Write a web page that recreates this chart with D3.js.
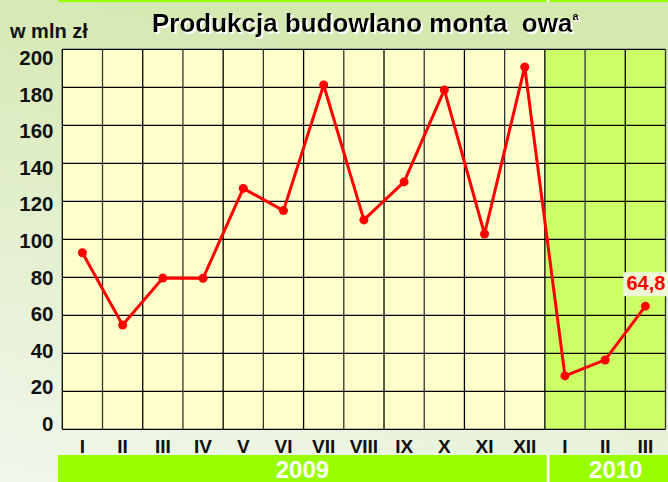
<!DOCTYPE html>
<html>
<head>
<meta charset="utf-8">
<script src="https://cdn.jsdelivr.net/npm/d3@7"></script>
<style>
  body{margin:0;padding:0;overflow:hidden;}
  .canvas{width:668px;height:482px;}
  text{font-family:"Liberation Sans",Arial,sans-serif;font-weight:bold;}
</style>
</head>
<body>
<div class="canvas"></div>
<script>
var months = ['I','II','III','IV','V','VI','VII','VIII','IX','X','XI','XII','I','II','III'];
var values = [92.9,54.9,79.6,79.5,126.8,115.1,181.2,110.2,130.2,178.6,102.8,190.7,28.1,36.5,64.8];
var years = ['2009','2010'];
var yearMonths = [12,3];
var yTicks = [0,20,40,60,80,100,120,140,160,180,200];
var lastLabel = '64,8';

var pageWidth = 668,
    pageHeight = 482;
var plot = {l:62.3,r:665.5,t:49.3,b:429.3};

var svg = d3.select('.canvas')
    .append('svg')
    .attr('width',pageWidth)
    .attr('height',pageHeight);

var defs = svg.append('defs');
var grad = defs.append('linearGradient')
    .attr('id','bg')
    .attr('x1',0.3).attr('y1',0).attr('x2',0).attr('y2',1);
grad.append('stop').attr('offset','0%').attr('stop-color','#d5e8b0');
grad.append('stop').attr('offset','100%').attr('stop-color','#f1f7ec');

// white drop shadow for the title
defs.append('filter')
    .attr('id','shadow')
    .attr('x','-5%').attr('y','-20%').attr('width','110%').attr('height','150%')
    .append('feDropShadow')
    .attr('dx',2).attr('dy',2).attr('stdDeviation',0.3)
    .attr('flood-color','#ffffff').attr('flood-opacity',1);

svg.append('rect')
    .attr('width',pageWidth)
    .attr('height',pageHeight)
    .style('fill','url(#bg)');

var x = d3.scaleBand()
    .domain(d3.range(months.length))
    .range([plot.l,plot.r]);
var y = d3.scaleLinear()
    .domain([0,200])
    .range([plot.b,plot.t]);
// tick labels sit on a slightly tighter scale than the grid
var yLabel = d3.scaleLinear()
    .domain([0,200])
    .range([431,65]);

var split = x(yearMonths[0]);

// top stripe
svg.append('rect')
    .attr('x',58).attr('y',0)
    .attr('width',pageWidth-58).attr('height',2)
    .style('fill','#99ff00');
svg.append('rect')
    .attr('x',split+2).attr('y',0)
    .attr('width',2.6).attr('height',2)
    .style('fill','#ffffff');

// plot backgrounds
svg.append('rect')
    .attr('x',plot.l).attr('y',plot.t)
    .attr('width',split-plot.l).attr('height',plot.b-plot.t)
    .style('fill','#ffffcc');
svg.append('rect')
    .attr('x',split).attr('y',plot.t)
    .attr('width',plot.r-split).attr('height',plot.b-plot.t)
    .style('fill','#ccff66');

// grid
var grid = svg.append('g').attr('class','grid');
grid.selectAll('.h')
    .data(yTicks)
    .enter()
    .append('line')
    .attr('x1',plot.l).attr('x2',plot.r)
    .attr('y1',function(d){return y(d);})
    .attr('y2',function(d){return y(d);})
    .style('stroke','#000')
    .style('stroke-width',1.3);
grid.selectAll('.v')
    .data(d3.range(months.length+1))
    .enter()
    .append('line')
    .attr('x1',function(d){return plot.l+d*x.bandwidth();})
    .attr('x2',function(d){return plot.l+d*x.bandwidth();})
    .attr('y1',plot.t).attr('y2',plot.b)
    .style('stroke',function(d){return (d%2)?'#333':'#000';})
    .style('stroke-width',1.3);

// y tick labels
svg.selectAll('.ylabel')
    .data(yTicks)
    .enter()
    .append('text')
    .attr('x',53.5)
    .attr('y',function(d){return yLabel(d);})
    .attr('text-anchor','end')
    .style('font-size','20.5px')
    .style('fill','#111')
    .text(function(d){return d;});

svg.append('text')
    .attr('x',10).attr('y',38)
    .style('font-size','20px')
    .style('fill','#111')
    .text('w mln zł');

// title
var title = svg.append('text')
    .attr('x',152).attr('y',32)
    .attr('filter','url(#shadow)')
    .attr('xml:space','preserve')
    .style('font-size','26px')
    .style('fill','#000');
title.append('tspan').text('Produkcja budowlano monta  owa');
title.append('tspan')
    .attr('dy',-12)
    .style('font-size','11px')
    .text('a');

// month labels
svg.selectAll('.xlabel')
    .data(months)
    .enter()
    .append('text')
    .attr('x',function(d,i){return x(i)+x.bandwidth()/2;})
    .attr('y',453)
    .attr('text-anchor','middle')
    .style('font-size','19px')
    .style('fill','#111')
    .text(function(d){return d;});

// year bar
svg.append('rect')
    .attr('x',58).attr('y',455)
    .attr('width',pageWidth-58).attr('height',pageHeight-455)
    .style('fill','#99ff00');
svg.append('rect')
    .attr('x',split+2).attr('y',455)
    .attr('width',2.6).attr('height',pageHeight-455)
    .style('fill','#ffffff');
var yearStart = [58,split+4.6],
    yearEnd = [split+2,pageWidth];
svg.selectAll('.year')
    .data(years)
    .enter()
    .append('text')
    .attr('x',function(d,i){return (yearStart[i]+yearEnd[i])/2 + (i?7:0);})
    .attr('y',478)
    .attr('text-anchor','middle')
    .style('font-size','24px')
    .style('fill','#ffffff')
    .text(function(d){return d;});

// series
var line = d3.line()
    .x(function(d,i){return x(i)+x.bandwidth()/2;})
    .y(function(d){return y(d);});
svg.append('path')
    .datum(values)
    .attr('d',line)
    .style('fill','none')
    .style('stroke','#ff0000')
    .style('stroke-width',3)
    .style('stroke-linejoin','round');
svg.selectAll('.pt')
    .data(values)
    .enter()
    .append('circle')
    .attr('cx',function(d,i){return x(i)+x.bandwidth()/2;})
    .attr('cy',function(d){return y(d);})
    .attr('r',4.5)
    .style('fill','#ff0000');

// last value label
var li = values.length-1;
var lx = x(li)+x.bandwidth()/2,
    ly = y(values[li]);
svg.append('rect')
    .attr('x',lx-22).attr('y',ly-34)
    .attr('width',45).attr('height',24)
    .style('fill','#eef8d6');
svg.append('text')
    .attr('x',lx+0.5).attr('y',ly-16)
    .attr('text-anchor','middle')
    .style('font-size','20px')
    .style('fill','#ff0000')
    .text(lastLabel);
</script>
</body>
</html>
